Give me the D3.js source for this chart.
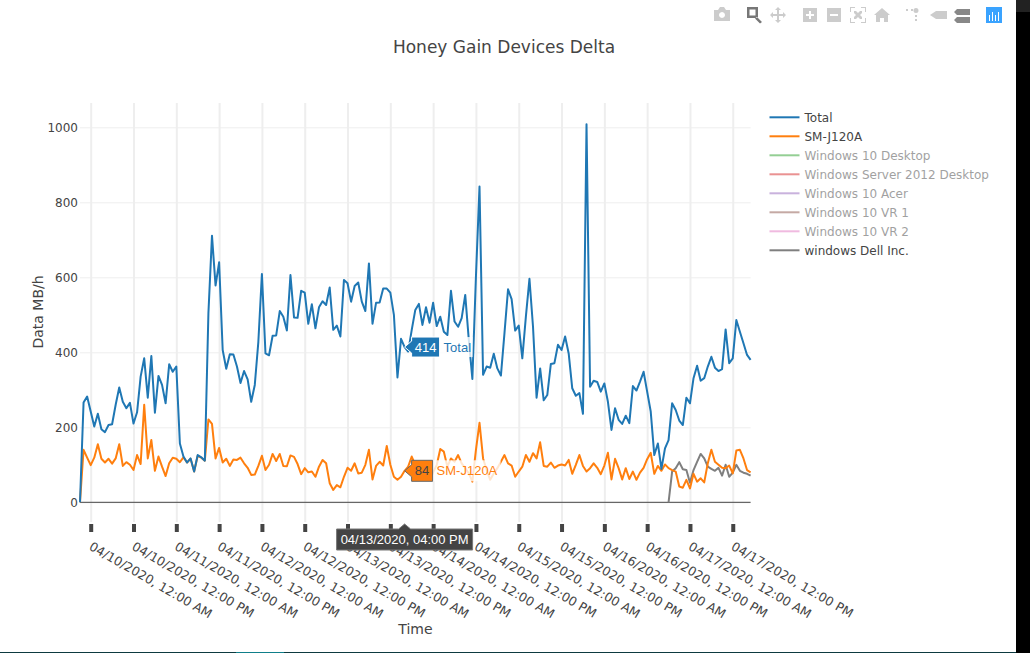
<!DOCTYPE html>
<html>
<head>
<meta charset="utf-8">
<title>Honey Gain Devices Delta</title>
<script src="https://cdn.jsdelivr.net/npm/d3@7"></script>
<style>
  body { margin: 0; background: #fff; overflow: hidden; }
  text { font-family: "DejaVu Sans", Verdana, sans-serif; fill: #444; }
  .hover text { font-family: "Liberation Sans", Arial, sans-serif; }
</style>
</head>
<body>
<div id="my_dataviz"></div>
<script>
// hourly values, first reading at 04/09/2020 9 PM
var firstHour = "2020-04-09T21:00:00Z";
var dellFirstHour = "2020-04-16T18:00:00Z";

var totalValues = [
  0,266,282,242,202,236,195,187,206,208,
  260,306,268,251,265,210,240,335,384,279,
  390,239,337,313,264,368,348,362,157,122,
  106,117,82,126,120,111,504,711,578,640,
  406,356,395,394,362,318,350,328,268,313,
  428,609,397,392,444,445,510,495,458,606,
  493,492,564,559,476,528,464,520,536,526,
  573,460,471,442,593,584,535,577,586,535,
  510,637,476,532,533,570,570,559,500,333,
  436,414,402,460,513,529,473,520,479,532,
  470,495,455,446,564,482,468,491,553,433,
  329,602,842,340,362,359,396,357,338,451,
  568,542,458,471,384,495,596,468,279,357,
  272,286,369,371,420,406,442,397,304,284,
  291,236,1008,308,324,321,295,317,268,193,
  251,220,209,231,211,310,298,322,348,295,
  242,126,157,89,144,166,264,246,218,206,
  279,264,331,364,324,331,362,388,359,350,
  355,461,371,384,486,455,424,393,380
];
var samsungValues = [
  0,140,119,99,119,155,116,106,116,103,
  117,155,97,107,100,86,126,102,260,117,
  166,84,122,95,70,104,119,116,107,120,
  106,116,82,124,119,111,221,209,117,145,
  106,116,97,114,113,119,104,92,73,74,
  97,124,86,100,129,110,129,97,96,125,
  121,102,75,91,80,82,68,95,113,104,
  51,33,46,40,68,92,84,104,77,79,
  100,140,61,97,108,98,150,100,68,60,
  68,84,95,122,100,90,70,85,60,80,
  99,142,135,95,117,108,126,104,91,77,
  55,140,212,117,86,60,77,91,108,126,
  104,98,68,82,95,126,108,131,117,160,
  97,95,106,92,98,101,98,113,76,100,
  126,97,82,91,104,92,75,98,132,61,
  116,91,61,91,62,82,60,79,92,115,
  132,76,97,84,101,91,86,82,42,39,
  60,37,76,55,64,53,104,140,108,100,
  92,91,98,77,138,140,117,86,80
];
var dellValues = [
  0,82,91,107,88,86,52,86,108,129,
  117,95,89,84,92,71,100,68,79,100,
  84,79,76,71
];

var legendNames = ["Total", "SM-J120A", "Windows 10 Desktop", "Windows Server 2012 Desktop",
  "Windows 10 Acer", "Windows 10 VR 1", "Windows 10 VR 2", "windows Dell Inc."];
var legendColors = ["#1f77b4", "#ff7f0e", "#2ca02c", "#d62728", "#9467bd", "#8c564b", "#e377c2", "#7f7f7f"];
var legendVisible = [true, true, false, false, false, false, false, true];

var yTicks = [0, 200, 400, 600, 800, 1000];
var hoverHour = "2020-04-13T16:00:00Z";
var hoverLabel = "04/13/2020, 04:00 PM";

var width = 1030, height = 653;

var svg = d3.select("#my_dataviz")
    .append("svg")
    .attr("width", width)
    .attr("height", height)
    .style("display", "block");

function hourSeries(start, values) {
    var t0 = new Date(start);
    return values.map(function (v, i) {
        return { date: d3.utcHour.offset(t0, i), value: v };
    });
}

var total = hourSeries(firstHour, totalValues);
var samsung = hourSeries(firstHour, samsungValues);
var dell = hourSeries(dellFirstHour, dellValues);

var x = d3.scaleUtc()
    .domain([total[0].date, total[total.length - 1].date])
    .range([80, 750.6]);

var y = d3.scaleLinear()
    .domain([0, 1000])
    .range([502.3, 127.3]);

var xTicks = d3.utcHour.range(new Date("2020-04-10T00:00:00Z"), new Date("2020-04-17T13:00:00Z"), 12);

// grid lines
var yGrid = svg.append("g")
    .attr("transform", "translate(80,0)")
    .call(d3.axisLeft(y).tickValues(yTicks).tickSize(-670.6).tickPadding(2).tickFormat(d3.format("d")));
yGrid.select(".domain").remove();
yGrid.selectAll("line").attr("stroke", "#eee");
yGrid.selectAll("text").style("font-size", "12px");

var xGrid = svg.append("g")
    .attr("transform", "translate(0,522)")
    .call(d3.axisBottom(x).tickValues(xTicks).tickSize(-419).tickFormat(""));
xGrid.select(".domain").remove();
xGrid.selectAll("line").attr("stroke", "#eee").attr("stroke-width", 2);

// zero line
svg.append("line")
    .attr("x1", 80).attr("x2", 750.6)
    .attr("y1", y(0)).attr("y2", y(0))
    .attr("stroke", "#444");

// x axis, thick ticks and slanted labels
var fmt = d3.utcFormat("%m/%d/%Y, %I:%M %p");
var xAxis = svg.append("g")
    .attr("transform", "translate(0,524)")
    .call(d3.axisBottom(x).tickValues(xTicks).tickSize(8).tickFormat(fmt));
xAxis.select(".domain").remove();
xAxis.selectAll("line").attr("stroke", "#444").attr("stroke-width", 4);
xAxis.selectAll("text")
    .style("font-size", "12.5px")
    .attr("text-anchor", "start")
    .attr("x", 0).attr("y", 0).attr("dy", 0)
    .attr("transform", "translate(-3,25) rotate(30)");

// lines
var line = d3.line()
    .x(function (d) { return x(d.date); })
    .y(function (d) { return y(d.value); });

[[dell, "#7f7f7f"], [samsung, "#ff7f0e"], [total, "#1f77b4"]].forEach(function (s) {
    svg.append("path")
        .datum(s[0])
        .attr("fill", "none")
        .attr("stroke", s[1])
        .attr("stroke-width", 2)
        .attr("stroke-linejoin", "round")
        .attr("d", line);
});

// titles
svg.append("text")
    .attr("x", 504).attr("y", 53)
    .attr("text-anchor", "middle")
    .style("font-size", "17px")
    .text("Honey Gain Devices Delta");

svg.append("text")
    .attr("x", 415.5).attr("y", 634)
    .attr("text-anchor", "middle")
    .style("font-size", "14px")
    .text("Time");

svg.append("text")
    .attr("transform", "translate(43,312) rotate(-90)")
    .attr("text-anchor", "middle")
    .style("font-size", "14px")
    .text("Data MB/h");

// legend
var legend = svg.selectAll(".legendrow")
    .data(legendNames)
    .enter()
    .append("g")
    .attr("class", "legendrow")
    .attr("transform", function (d, i) { return "translate(769.5," + (117.3 + i * 19) + ")"; })
    .attr("opacity", function (d, i) { return legendVisible[i] ? 1 : 0.5; });

legend.append("line")
    .attr("x2", 30)
    .attr("stroke", function (d, i) { return legendColors[i]; })
    .attr("stroke-width", 2);

legend.append("text")
    .attr("x", 35).attr("dy", "0.36em")
    .style("font-size", "12px")
    .text(function (d) { return d; });

// hover labels
function hoverBox(series, color, textColor, border, boxW, boxH, nameW, name) {
    var t = new Date(hoverHour);
    var pt = series.filter(function (d) { return +d.date === +t; })[0];
    var g = svg.append("g")
        .attr("class", "hover")
        .attr("transform", "translate(" + x(pt.date) + "," + y(pt.value) + ")");
    g.append("rect")
        .attr("x", 7 + boxW).attr("y", -boxH / 2)
        .attr("width", nameW).attr("height", boxH)
        .attr("fill", "#fff").attr("fill-opacity", 0.8);
    g.append("path")
        .attr("d", "M0,0L7,-6V" + (-boxH / 2) + "H" + (7 + boxW) + "V" + (boxH / 2) + "H7V6Z")
        .attr("fill", color)
        .attr("stroke", border);
    g.append("text")
        .attr("x", 7 + boxW / 2).attr("dy", "0.36em")
        .attr("text-anchor", "middle")
        .style("font-size", "13px")
        .style("fill", textColor)
        .text(pt.value);
    g.append("text")
        .attr("x", 7 + boxW + 4).attr("dy", "0.36em")
        .style("font-size", "13px")
        .style("fill", color)
        .text(name);
}
hoverBox(total, "#1f77b4", "#fff", "#fff", 28, 20, 33, "Total");
hoverBox(samsung, "#ff7f0e", "#444", "#666", 21, 21, 68, "SM-J120A");

// time label under the axis
var hx = x(new Date(hoverHour));
var hg = svg.append("g").attr("class", "hover").attr("transform", "translate(" + hx + ",524)");
hg.append("path")
    .attr("d", "M0,0L6,5H68V26H-68V5H-6Z")
    .attr("fill", "#444")
    .attr("stroke", "#777");
hg.append("text")
    .attr("x", 0).attr("y", 20)
    .attr("text-anchor", "middle")
    .style("font-size", "13px")
    .style("fill", "#fff")
    .text(hoverLabel);

// modebar icons
var bar = svg.append("g").attr("fill", "#ccc");
bar.append("path").attr("d", "M714,10h4l2,-3h4l2,3h4v11h-16ZM722,12a3,3 0 1,0 .01,0Z").attr("fill-rule", "evenodd");
bar.append("path").attr("d", "M747,7h11v11h-11ZM749.5,9.5v6h6v-6ZM757,17l5,5l-2,1.5l-5,-5Z").attr("fill", "#777").attr("fill-rule", "evenodd");
bar.append("path").attr("d", "M778,7l3,3h-2v4h4v-2l3,3l-3,3v-2h-4v4h2l-3,3l-3,-3h2v-4h-4v2l-3,-3l3,-3v2h4v-4h-2Z");
bar.append("path").attr("d", "M803,8h14v14h-14ZM809,11v3h-3v2h3v3h2v-3h3v-2h-3v-3Z").attr("fill-rule", "evenodd");
bar.append("path").attr("d", "M827,8h14v14h-14ZM830,14v2h8v-2Z").attr("fill-rule", "evenodd");
bar.append("path").attr("d", "M850,7h5v1h-4v4h-1ZM861,7h5v5h-1v-4h-4ZM850,18h1v4h4v1h-5ZM865,18h1v5h-5v-1h4ZM854,11h2l2,2l2,-2h2v2l-2,2l2,2v2h-2l-2,-2l-2,2h-2v-2l2,-2l-2,-2Z");
bar.append("path").attr("d", "M882,8l8,7h-2v7h-4v-4h-4v4h-4v-7h-2Z");
bar.append("path").attr("d", "M906,9h2v2h-2ZM911,9h2v2h-2ZM916,8a2.5,2.5 0 1,1 0,5a2.5,2.5 0 1,1 0,-5ZM915,15h2v2h-2ZM915,19h2v2h-2Z");
bar.append("path").attr("d", "M930,15l6,-4h11v8h-11Z");
bar.append("path").attr("d", "M957,9h13v6h-13l-3,-3ZM957,17h13v6h-13l-3,-3Z").attr("fill", "#888");
bar.append("rect").attr("x", 986).attr("y", 7).attr("width", 16).attr("height", 16).attr("fill", "#3aa3ff");
svg.append("path")
    .attr("d", "M989,15h1v6h-1ZM992,12h1v9h-1ZM995,15h1v6h-1ZM998,12h1v9h-1Z")
    .attr("fill", "#fff");

// window edges of the screenshot
svg.append("rect").attr("x", 1016).attr("y", 0).attr("width", 14).attr("height", 653).attr("fill", "#000");
svg.append("rect").attr("x", 1016).attr("y", 0).attr("width", 14).attr("height", 12).attr("fill", "#222");
svg.append("rect").attr("x", 0).attr("y", 652).attr("width", 1016).attr("height", 1).attr("fill", "#0d3a40");
svg.append("rect").attr("x", 236).attr("y", 652).attr("width", 48).attr("height", 1).attr("fill", "#0f7f8a");
</script>
</body>
</html>
